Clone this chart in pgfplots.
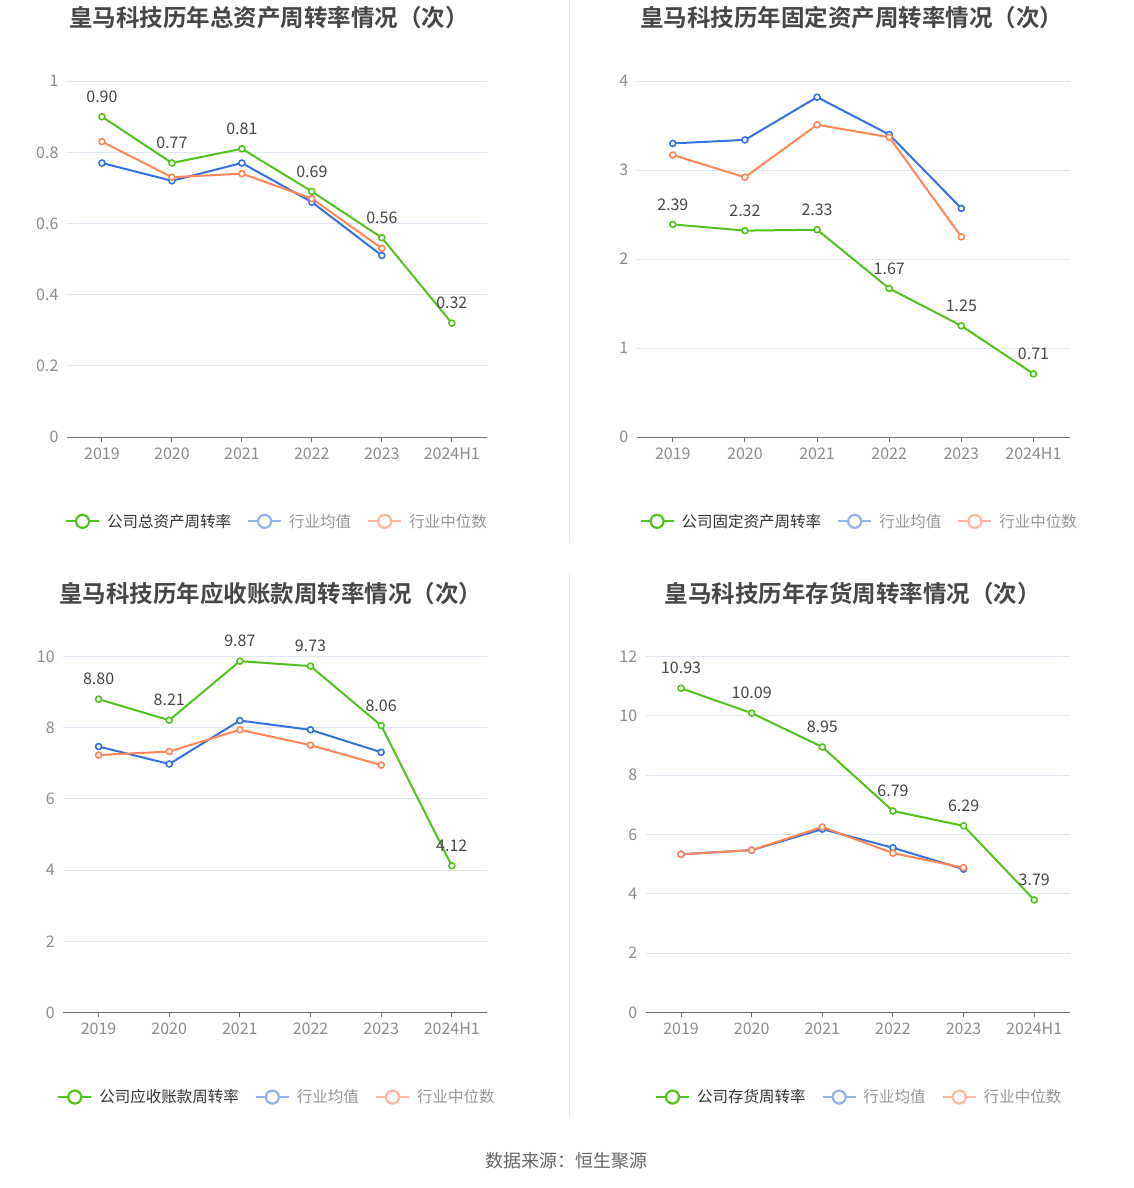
\documentclass[border=0pt]{standalone}
\usepackage{fontspec}
\setmainfont{Noto Sans CJK SC}[BoldFont={Noto Sans CJK SC Bold}]
\usepackage{pgfplots}
\pgfplotsset{compat=1.18}

\definecolor{cgreen}{RGB}{82,194,28}
\definecolor{cblue}{RGB}{52,114,226}
\definecolor{corange}{RGB}{255,134,86}
\definecolor{lblue}{RGB}{146,178,240}
\definecolor{lorange}{RGB}{255,184,160}
\definecolor{gridc}{RGB}{224,230,241}
\definecolor{axisc}{RGB}{110,112,121}
\definecolor{tickc}{RGB}{140,140,140}
\definecolor{labc}{RGB}{70,70,70}
\definecolor{titc}{RGB}{70,70,70}
\definecolor{legtxt}{RGB}{51,51,51}
\definecolor{leggray}{RGB}{150,150,150}
\definecolor{sepc}{RGB}{235,235,235}
\definecolor{srcc}{RGB}{102,102,102}

\pgfplotsset{
  panel/.style={
    scale only axis, height=356pt, anchor=south west,
    xmin=-0.5, xmax=5.5, xtick={0,...,5},
    xticklabels={2019,2020,2021,2022,2023,2024H1},
    ymin=0,
    axis x line*=bottom, axis y line*=left,
    y axis line style={draw=none},
    x axis line style={draw=axisc, line width=1pt},
    xtick style={draw=axisc, line width=1pt},
    ytick style={draw=none},
    tick align=outside, major tick length=5pt,
    ymajorgrids, grid style={draw=gridc, line width=1pt},
    ticklabel style={font=\fontsize{16}{18}\selectfont, text=tickc},
    xticklabel style={yshift=-2pt},
    /pgf/number format/assume math mode=true,
    clip=false,
    legend columns=3,
    legend style={draw=none, fill=none, font=\fontsize{15.5}{19}\selectfont, text=legtxt,
      anchor=center, inner sep=0pt,
      /tikz/every odd column/.append style={column sep=5pt},
      /tikz/every even column/.append style={column sep=14pt}},
    legend cell align=left,
    legend image code/.code={
      \draw[##1, line width=2.2pt] (0pt,0pt) -- (33pt,0pt);
      \draw[##1, line width=2.2pt, fill=white] (16.5pt,0pt) circle (6.5pt);
    },
  },
  ser/.style={forget plot, line width=2pt, color=#1, mark=*, mark size=3pt,
    mark options={fill=white, line width=1.6pt, draw=#1}},
  lab/.style={nodes near coords={\pgfmathprintnumber[fixed,fixed zerofill,precision=2,assume math mode=true]{\pgfplotspointmeta}},
    every node near coord/.append style={font=\fontsize{16}{19}\selectfont, text=labc, anchor=center, yshift=20pt}},
}

\begin{document}
\begin{tikzpicture}[x=1pt,y=1pt]
\path[fill=white] (0,0) rectangle (1134,1188);
\draw[sepc, line width=1pt] (570,1188) -- (570,645);
\draw[sepc, line width=1pt] (570,614) -- (570,70);

\node[font=\bfseries\fontsize{23.5}{26}\selectfont, text=titc] at (269,1171) {皇马科技历年总资产周转率情况（次）};
\node[font=\bfseries\fontsize{23.5}{26}\selectfont, text=titc] at (852,1171) {皇马科技历年固定资产周转率情况（次）};
\node[font=\bfseries\fontsize{23.5}{26}\selectfont, text=titc] at (271,595) {皇马科技历年应收账款周转率情况（次）};
\node[font=\bfseries\fontsize{23.5}{26}\selectfont, text=titc] at (853,595) {皇马科技历年存货周转率情况（次）};
\node[font=\fontsize{18}{21}\selectfont, text=srcc] at (567,27) {数据来源：恒生聚源};

% Panel 1
\begin{axis}[panel, at={(67pt,751.3pt)}, width=420pt, ymax=1, ytick={0,0.2,0.4,0.6,0.8,1},
  legend style={at={(0.5,-0.237)}}]
\addlegendimage{color=cgreen}\addlegendentry{公司总资产周转率}
\addlegendimage{color=lblue}\addlegendentry{\textcolor{leggray}{行业均值}}
\addlegendimage{color=lorange}\addlegendentry{\textcolor{leggray}{行业中位数}}
\addplot[ser=cblue] coordinates {(0,0.77) (1,0.72) (2,0.77) (3,0.66) (4,0.51)};
\addplot[ser=corange] coordinates {(0,0.83) (1,0.73) (2,0.74) (3,0.67) (4,0.53)};
\addplot[ser=cgreen, lab] coordinates {(0,0.90) (1,0.77) (2,0.81) (3,0.69) (4,0.56) (5,0.32)};
\end{axis}

% Panel 2
\begin{axis}[panel, at={(637pt,751.3pt)}, width=433pt, ymax=4, ytick={0,1,2,3,4},
  legend style={at={(0.514,-0.237)}}]
\addlegendimage{color=cgreen}\addlegendentry{公司固定资产周转率}
\addlegendimage{color=lblue}\addlegendentry{\textcolor{leggray}{行业均值}}
\addlegendimage{color=lorange}\addlegendentry{\textcolor{leggray}{行业中位数}}
\addplot[ser=cblue] coordinates {(0,3.30) (1,3.34) (2,3.82) (3,3.40) (4,2.57)};
\addplot[ser=corange] coordinates {(0,3.17) (1,2.92) (2,3.51) (3,3.37) (4,2.25)};
\addplot[ser=cgreen, lab] coordinates {(0,2.39) (1,2.32) (2,2.33) (3,1.67) (4,1.25) (5,0.71)};
\end{axis}

% Panel 3
\begin{axis}[panel, at={(63.3pt,175.7pt)}, width=424pt, ymax=10, ytick={0,2,4,6,8,10},
  legend style={at={(0.504,-0.238)}}]
\addlegendimage{color=cgreen}\addlegendentry{公司应收账款周转率}
\addlegendimage{color=lblue}\addlegendentry{\textcolor{leggray}{行业均值}}
\addlegendimage{color=lorange}\addlegendentry{\textcolor{leggray}{行业中位数}}
\addplot[ser=cblue] coordinates {(0,7.47) (1,6.98) (2,8.20) (3,7.94) (4,7.31)};
\addplot[ser=corange] coordinates {(0,7.23) (1,7.33) (2,7.94) (3,7.51) (4,6.95)};
\addplot[ser=cgreen, lab] coordinates {(0,8.80) (1,8.21) (2,9.87) (3,9.73) (4,8.06) (5,4.12)};
\end{axis}

% Panel 4
\begin{axis}[panel, at={(646pt,175.7pt)}, width=424pt, ymax=12, ytick={0,2,4,6,8,10,12},
  legend style={at={(0.5035,-0.238)}}]
\addlegendimage{color=cgreen}\addlegendentry{公司存货周转率}
\addlegendimage{color=lblue}\addlegendentry{\textcolor{leggray}{行业均值}}
\addlegendimage{color=lorange}\addlegendentry{\textcolor{leggray}{行业中位数}}
\addplot[ser=cblue] coordinates {(0,5.33) (1,5.47) (2,6.18) (3,5.55) (4,4.83)};
\addplot[ser=corange] coordinates {(0,5.33) (1,5.47) (2,6.25) (3,5.37) (4,4.88)};
\addplot[ser=cgreen, lab] coordinates {(0,10.93) (1,10.09) (2,8.95) (3,6.79) (4,6.29) (5,3.79)};
\end{axis}
\end{tikzpicture}
\end{document}
